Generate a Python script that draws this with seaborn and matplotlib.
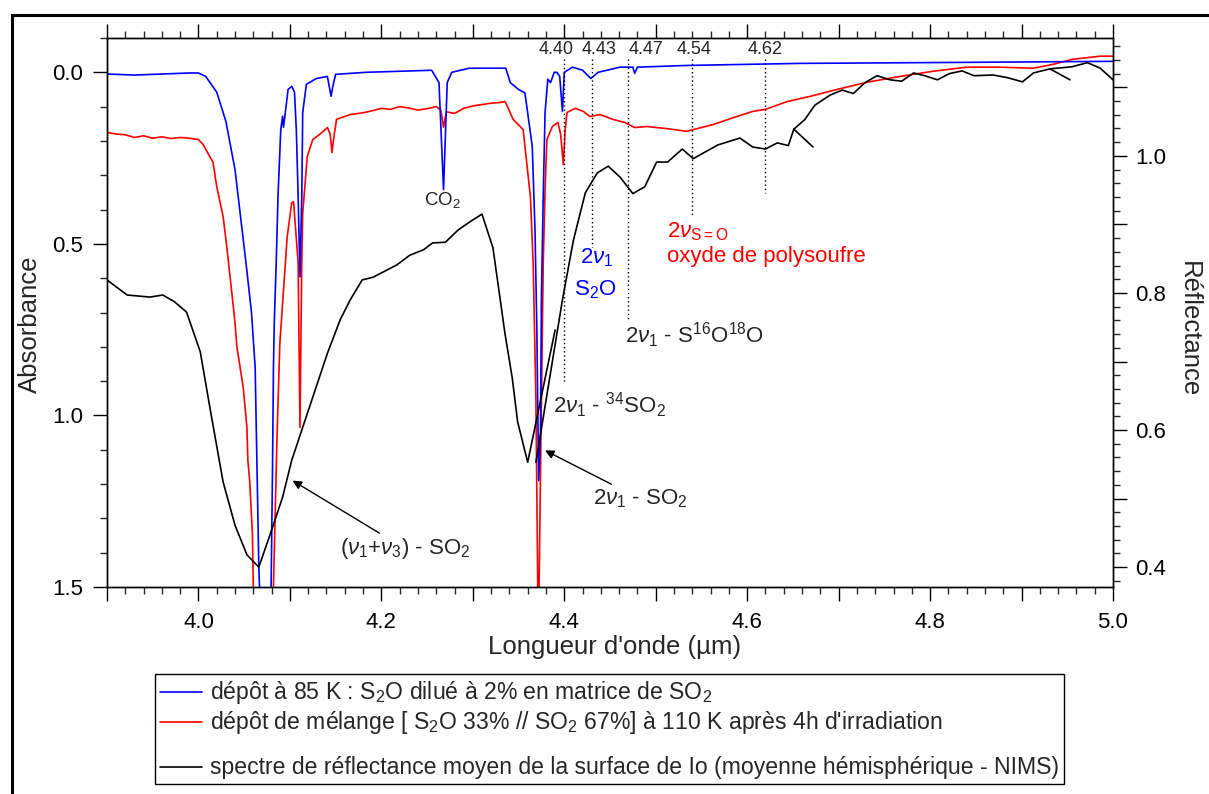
"""
Spectres IR : S2O dilue / melange S2O-SO2 irradie / reflectance de Io (NIMS)
Recreation of the comparison figure (absorbance left, reflectance right).
"""

import numpy as np
import pandas as pd
import matplotlib
matplotlib.use("Agg")
import matplotlib.pyplot as plt
from matplotlib.ticker import MultipleLocator, FuncFormatter
from matplotlib.lines import Line2D
from matplotlib.patches import Rectangle
import seaborn as sns

# ============================================================================
# DATA
# ============================================================================

# depot a 85 K : S2O dilue a 2% dans SO2 (absorbance)
BLUE_WL = [3.900, 3.930, 3.960, 3.990, 4.000, 4.008, 4.020, 4.030, 4.040, 4.046,
           4.052, 4.058, 4.062, 4.064, 4.066, 4.068, 4.079, 4.081, 4.082, 4.083,
           4.085, 4.087, 4.090, 4.092, 4.093, 4.095, 4.098, 4.102, 4.105, 4.107,
           4.109, 4.111, 4.113, 4.114, 4.118, 4.129, 4.141, 4.145, 4.147, 4.150,
           4.183, 4.219, 4.255, 4.263, 4.268, 4.272, 4.277, 4.296, 4.336, 4.341,
           4.350, 4.357, 4.365, 4.368, 4.370, 4.372, 4.374, 4.375, 4.377, 4.379,
           4.382, 4.385, 4.389, 4.392, 4.395, 4.398, 4.400, 4.409, 4.420, 4.429,
           4.437, 4.461, 4.475, 4.477, 4.480, 4.534, 4.658, 4.840, 5.000]
BLUE_ABS = [0.005, 0.008, 0.005, 0.002, 0.002, 0.012, 0.058, 0.143, 0.284, 0.420,
            0.556, 0.700, 0.860, 1.150, 1.440, 1.600, 1.600, 1.150, 0.860, 0.720,
            0.556, 0.360, 0.167, 0.128, 0.160, 0.117, 0.050, 0.041, 0.058, 0.167,
            0.360, 0.596, 0.360, 0.117, 0.035, 0.018, 0.012, 0.070, 0.040, 0.006,
            0.000, -0.003, -0.006, 0.030, 0.342, 0.030, 0.000, -0.012, -0.012, 0.030,
            0.050, 0.060, 0.216, 0.460, 0.750, 1.190, 1.050, 0.660, 0.360, 0.117,
            0.020, 0.030, 0.000, 0.000, 0.012, 0.114, 0.000, -0.015, -0.006, 0.018,
            0.000, -0.015, -0.015, 0.003, -0.015, -0.020, -0.026, -0.029, -0.032]

# melange S2O 33% / SO2 67% a 110 K apres 4h d'irradiation (absorbance)
RED_WL = [3.900, 3.910, 3.920, 3.930, 3.940, 3.950, 3.960, 3.970, 3.980, 3.990,
          4.000, 4.005, 4.016, 4.020, 4.027, 4.031, 4.037, 4.040, 4.042, 4.045,
          4.049, 4.053, 4.054, 4.056, 4.059, 4.060, 4.062, 4.080, 4.082, 4.086,
          4.089, 4.091, 4.097, 4.102, 4.104, 4.109, 4.111, 4.113, 4.114, 4.119,
          4.125, 4.133, 4.141, 4.144, 4.146, 4.148, 4.151, 4.166, 4.180, 4.190,
          4.200, 4.210, 4.220, 4.230, 4.240, 4.250, 4.260, 4.265, 4.268, 4.271,
          4.280, 4.290, 4.300, 4.310, 4.320, 4.330, 4.335, 4.337, 4.344, 4.355,
          4.363, 4.366, 4.369, 4.371, 4.372, 4.375, 4.377, 4.379, 4.381, 4.387,
          4.393, 4.396, 4.399, 4.401, 4.403, 4.412, 4.421, 4.428, 4.439, 4.453,
          4.466, 4.477, 4.490, 4.512, 4.534, 4.541, 4.563, 4.585, 4.606, 4.620,
          4.644, 4.669, 4.698, 4.731, 4.767, 4.803, 4.840, 4.876, 4.913, 4.934,
          4.956, 4.986, 5.000]
RED_ABS = [0.175, 0.180, 0.182, 0.190, 0.185, 0.192, 0.188, 0.193, 0.190, 0.192,
           0.196, 0.210, 0.263, 0.333, 0.421, 0.509, 0.655, 0.731, 0.800, 0.850,
           0.920, 1.035, 1.130, 1.190, 1.345, 1.500, 1.600, 1.600, 1.500, 1.053,
           0.789, 0.713, 0.480, 0.380, 0.377, 0.556, 1.035, 0.550, 0.410, 0.245,
           0.196, 0.180, 0.161, 0.180, 0.234, 0.190, 0.137, 0.123, 0.118, 0.112,
           0.105, 0.108, 0.100, 0.104, 0.110, 0.106, 0.100, 0.110, 0.160, 0.115,
           0.120, 0.105, 0.098, 0.094, 0.090, 0.088, 0.085, 0.094, 0.137, 0.167,
           0.363, 0.556, 0.956, 1.500, 1.600, 0.956, 0.556, 0.342, 0.196, 0.158,
           0.146, 0.180, 0.269, 0.167, 0.117, 0.105, 0.114, 0.129, 0.123, 0.137,
           0.146, 0.161, 0.158, 0.164, 0.172, 0.167, 0.152, 0.132, 0.114, 0.108,
           0.085, 0.070, 0.050, 0.029, 0.012, -0.003, -0.015, -0.015, -0.012, -0.023,
           -0.038, -0.047, -0.047]

# spectre de reflectance moyen de Io (NIMS) -- 4 segments qui se recouvrent
IO_WL = [3.900, 3.922, 3.947, 3.961, 3.974, 3.987, 4.002, 4.013, 4.027, 4.040,
         4.053, 4.066, 4.080, 4.092, 4.102, 4.113, 4.125, 4.141, 4.155, 4.166,
         4.179, 4.191, 4.217, 4.231, 4.246, 4.256, 4.270, 4.284, 4.297, 4.310,
         4.322, 4.330, 4.335, 4.343, 4.349, 4.360, 4.390,
         4.369, 4.398, 4.410, 4.423, 4.436, 4.448, 4.461, 4.475, 4.488, 4.501,
         4.513, 4.529, 4.541, 4.568, 4.592, 4.606, 4.620, 4.633, 4.645, 4.651,
         4.672,
         4.651, 4.663, 4.674, 4.691, 4.704, 4.716, 4.729, 4.742, 4.756, 4.769,
         4.782, 4.794, 4.808, 4.821, 4.835, 4.848, 4.869, 4.885, 4.901, 4.913,
         4.931, 4.953,
         4.931, 4.955, 4.972, 4.986, 5.000]
IO_REFL = [0.819, 0.797, 0.794, 0.797, 0.787, 0.772, 0.714, 0.629, 0.524, 0.461,
           0.418, 0.400, 0.454, 0.502, 0.556, 0.600, 0.648, 0.712, 0.761, 0.790,
           0.819, 0.823, 0.841, 0.855, 0.863, 0.873, 0.874, 0.892, 0.904, 0.915,
           0.866, 0.790, 0.742, 0.677, 0.612, 0.553, 0.746,
           0.553, 0.790, 0.877, 0.946, 0.975, 0.985, 0.969, 0.945, 0.955, 0.991,
           0.991, 1.010, 0.996, 1.016, 1.026, 1.013, 1.010, 1.019, 1.015, 1.039,
           1.013,
           1.039, 1.053, 1.074, 1.089, 1.096, 1.091, 1.107, 1.117, 1.111, 1.109,
           1.121, 1.117, 1.111, 1.120, 1.124, 1.117, 1.118, 1.114, 1.108, 1.121,
           1.127, 1.111,
           1.127, 1.130, 1.136, 1.128, 1.111]
IO_SEG = [0] * 37 + [1] * 21 + [2] * 22 + [3] * 5

# positions des bandes reperees (pointilles)
BAND_WL = [4.40, 4.43, 4.47, 4.54, 4.62]
BAND_LABELS = ["4.40", "4.43", "4.47", "4.54", "4.62"]

LEGEND_LABELS = [
    "dépôt à 85 K : S$_2$O dilué à 2% en matrice de SO$_2$",
    "dépôt de mélange [ S$_2$O 33% // SO$_2$ 67%] à 110 K après 4h d'irradiation",
    " ",
    "spectre de réflectance moyen de la surface de Io (moyenne hémisphérique - NIMS)",
]

# ============================================================================
# LAYOUT
# ============================================================================

W, H = 1209, 794
BAND_LINE_END = [0.906, 0.509, 0.722, 0.421, 0.351]
BAND_LABEL_X = [4.391, 4.438, 4.489, 4.542, 4.620]

sns.set_theme(style="ticks")
plt.rcParams["font.family"] = ["Liberation Sans", "DejaVu Sans"]
plt.rcParams["mathtext.fontset"] = "custom"
plt.rcParams["mathtext.rm"] = "Liberation Sans"
plt.rcParams["mathtext.it"] = "Liberation Sans:italic"
plt.rcParams["mathtext.bf"] = "Liberation Sans:bold"
plt.rcParams["axes.linewidth"] = 1.0

blue_df = pd.DataFrame({"wl": BLUE_WL, "absorbance": BLUE_ABS})
red_df = pd.DataFrame({"wl": RED_WL, "absorbance": RED_ABS})
io_df = pd.DataFrame({"wl": IO_WL, "refl": IO_REFL, "seg": IO_SEG})

fig = plt.figure(figsize=(W / 100, H / 100), dpi=100)
ax = fig.add_axes([107 / W, 1 - 587 / H, (1113 - 107) / W, (587 - 38) / H])

sns.lineplot(data=red_df, x="wl", y="absorbance", sort=False, estimator=None,
             color="#ff0000", lw=1.2, ax=ax)
sns.lineplot(data=blue_df, x="wl", y="absorbance", sort=False, estimator=None,
             color="#0000ff", lw=1.2, ax=ax)

ax.set_xlim(3.9, 5.0)
ax.set_ylim(1.5, -0.1)

ax2 = ax.twinx()
sns.lineplot(data=io_df, x="wl", y="refl", units="seg", sort=False, estimator=None,
             color="black", lw=1.2, ax=ax2, legend=False)
ax2.set_xlim(3.9, 5.0)
ax2.set_ylim(0.371, 1.172)

# ticks
every_other = FuncFormatter(lambda v, p: f"{v:.1f}" if round(v * 10) % 2 == 0 else "")
ax.xaxis.set_major_locator(MultipleLocator(0.1))
ax.xaxis.set_minor_locator(MultipleLocator(0.02))
ax.xaxis.set_major_formatter(every_other)
ax.yaxis.set_major_locator(MultipleLocator(0.5))
ax.yaxis.set_minor_locator(MultipleLocator(0.1))
ax.yaxis.set_major_formatter(FuncFormatter(lambda v, p: f"{v:.1f}"))
ax2.yaxis.set_major_locator(MultipleLocator(0.1))
ax2.yaxis.set_minor_locator(MultipleLocator(0.02))
ax2.yaxis.set_major_formatter(every_other)

for a in (ax, ax2):
    a.tick_params(which="major", direction="out", length=10, width=1.0,
                  labelsize=16, colors="black")
    a.tick_params(which="minor", direction="out", length=5, width=1.0)
    for s in a.spines.values():
        s.set_visible(True)
        s.set_color("black")
        s.set_linewidth(1.0)
ax.tick_params(axis="x", which="both", top=True, bottom=True)
ax.tick_params(axis="x", which="major", pad=8)
ax.tick_params(axis="y", which="major", pad=7)
ax2.tick_params(axis="y", which="major", pad=6)

ax.set_xlabel("Longueur d'onde (µm)", fontsize=18.5, va="center")
ax.xaxis.set_label_coords(0.505, -0.109)
ax.set_ylabel("Absorbance", fontsize=18.5, va="center")
ax.yaxis.set_label_coords(-0.0765, 0.479)
ax2.set_ylabel("Réflectance", fontsize=18.5, rotation=270, va="center")
ax2.yaxis.set_label_coords(1.0755, 0.47)

# reperes pointilles + etiquettes
for wl, yend, lx, lab in zip(BAND_WL, BAND_LINE_END, BAND_LABEL_X, BAND_LABELS):
    ax.plot([wl, wl], [-0.04, yend], ls=(0, (1, 2)), color="black", lw=1.0)
    ax.text(lx, -0.067, lab, fontsize=13, ha="center", va="center")

ax.text(4.267, 0.371, "CO$_2$", fontsize=13.5, ha="center", va="center")
ax.text(4.435, 0.541, r"2$\nu_1$", fontsize=16, color="#0000ff", ha="center", va="center")
ax.text(4.434, 0.635, "S$_2$O", fontsize=16, color="#0000ff", ha="center", va="center")
ax.text(4.512, 0.465, r"2$\nu_{\mathrm{S{=}O}}$", fontsize=16, color="#ff0000",
        ha="left", va="center")
ax.text(4.512, 0.538, "oxyde de polysoufre", fontsize=16, color="#ff0000",
        ha="left", va="center")
ax.text(4.466, 0.766, r"2$\nu_1$ - S$^{16}$O$^{18}$O", fontsize=16, ha="left", va="center")
ax.text(4.388, 0.971, r"2$\nu_1$ - $^{34}$SO$_2$", fontsize=16, ha="left", va="center")

arrow = dict(arrowstyle="-|>", color="black", lw=1.0, mutation_scale=13,
             shrinkA=0, shrinkB=0)
ax.annotate(r"2$\nu_1$ - SO$_2$", xy=(4.379, 1.102), xytext=(4.431, 1.243),
            fontsize=16, ha="left", va="center", arrowprops=arrow)
ax.annotate(r"($\nu_1$+$\nu_3$) - SO$_2$", xy=(4.103, 1.19), xytext=(4.155, 1.389),
            fontsize=16, ha="left", va="center", arrowprops=arrow)

# legende (ligne vide plus basse entre rouge et noir)
handles = [Line2D([], [], color="#0000ff", lw=1.2),
           Line2D([], [], color="#ff0000", lw=1.2),
           Line2D([], [], color="none"),
           Line2D([], [], color="black", lw=1.2)]
leg = fig.legend(handles, LEGEND_LABELS, loc="upper left",
                 bbox_to_anchor=(155 / W, 1 - 674 / H), bbox_transform=fig.transFigure,
                 frameon=True, fancybox=False, edgecolor="black", framealpha=1,
                 fontsize=16.6, handlelength=1.85, handleheight=0.3,
                 handletextpad=0.35, borderpad=0.2, labelspacing=0.13,
                 borderaxespad=0)
leg.get_texts()[2].set_fontsize(3)
leg.get_frame().set_linewidth(1.0)

# cadre exterieur
fig.patches.append(Rectangle((12 / W, -0.05), 1.1, (H - 15) / H + 0.05,
                             transform=fig.transFigure, fill=False,
                             edgecolor="black", lw=2.2))

fig.savefig("out.png", dpi=100)
